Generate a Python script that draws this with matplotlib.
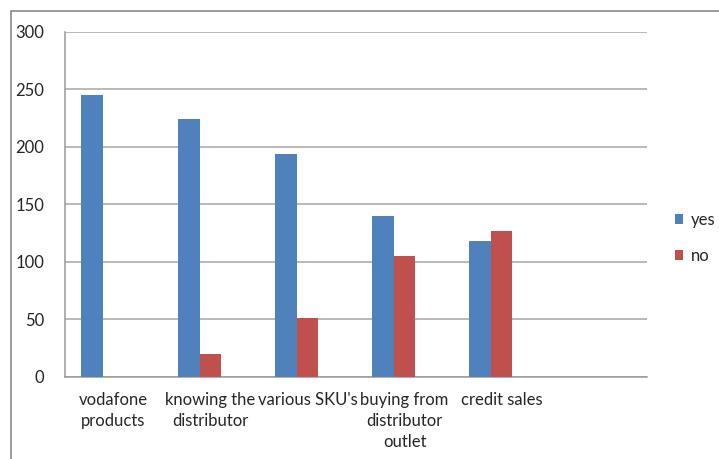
import matplotlib
matplotlib.use("Agg")
import matplotlib.pyplot as plt
from matplotlib.patches import Rectangle
import numpy as np

categories = ["vodafone\nproducts", "knowing the\ndistributor", "various SKU's",
              "buying from\ndistributor\noutlet", "credit sales", ""]
yes_values = [245, 224, 194, 140, 118]
no_values = [0, 20, 51, 105, 127]
series_names = ["yes", "no"]
yticks = [0, 50, 100, 150, 200, 250, 300]

plt.rcParams['font.family'] = ['Lato', 'DejaVu Sans']

W, H = 719, 459
fig = plt.figure(figsize=(W / 100, H / 100), dpi=100)
fig.patch.set_facecolor("white")

# outer chart frame
fig.add_artist(Rectangle((10.5 / W, -0.1), 2, (H - 11.5) / H + 0.1,
                         transform=fig.transFigure, fill=False,
                         edgecolor="#8a8a8a", linewidth=1.2))

left, right, top, bottom = 65, 647, 31.7, 376.5
ax = fig.add_axes([left / W, 1 - bottom / H, (right - left) / W, (bottom - top) / H])

n_slots = 3  # Excel cluster with three series slots (third unused)
gap = 1.5
w = 1.0 / (n_slots + gap)
x = np.arange(len(categories))
start = -n_slots * w / 2

colors = ["#4f81bd", "#c0504d"]
for i, (vals, name, c) in enumerate(zip([yes_values, no_values], series_names, colors)):
    xs = x[:len(vals)] + start + (i + 0.5) * w
    ax.bar(xs, vals, width=w, color=c, label=name, edgecolor="none", zorder=3)

fs = 12
ax.set_xlim(-0.5, len(categories) - 0.5)
ax.set_ylim(0, 300)
ax.set_yticks(yticks)
ax.set_yticklabels([str(v) for v in yticks], fontsize=fs, color="#262626")
ax.set_xticks(x)
ax.set_xticklabels(categories, fontsize=fs, color="#262626", linespacing=1.4, va="top")
ax.tick_params(axis="both", length=0)
ax.tick_params(axis="y", pad=15)
ax.tick_params(axis="x", pad=11)
ax.grid(axis="y", color="#a6a6a6", linewidth=1.1, zorder=0)
for s in ["top", "right"]:
    ax.spines[s].set_visible(False)
for s in ["left", "bottom"]:
    ax.spines[s].set_color("#9a9a9a")
    ax.spines[s].set_linewidth(1.1)

handles, labels = ax.get_legend_handles_labels()
fig.legend(handles, labels, loc="center left", bbox_to_anchor=(675 / W, 1 - 238 / H),
           frameon=False, fontsize=fs, handlelength=0.5, handleheight=0.5,
           handletextpad=0.45, labelspacing=1.2, labelcolor="#262626",
           borderpad=0, borderaxespad=0)

fig.savefig("out.png", dpi=100)
